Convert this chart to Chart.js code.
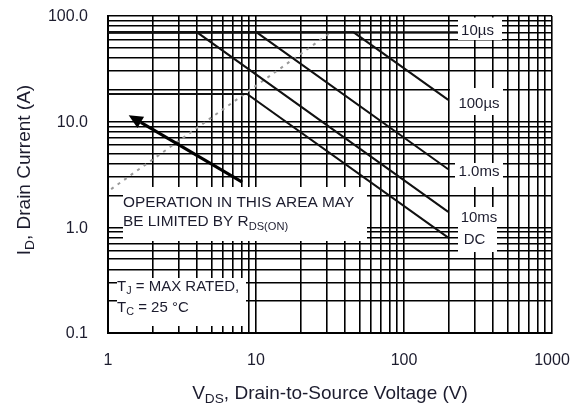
<!DOCTYPE html>
<html lang="en">
<head>
<meta charset="UTF-8">
<title>Safe Operating Area</title>
<script src="https://cdn.jsdelivr.net/npm/chart.js"></script>
<style>
  html, body { margin: 0; padding: 0; background: #fff; }
  #wrap { width: 574px; height: 412px; position: relative; }
</style>
</head>
<body>
<div id="wrap"><canvas id="soa"></canvas></div>
<script>
// grid / tick values
const xGridValues = [1, 2, 3, 4, 5, 6, 7, 8, 9, 10, 20, 30, 40, 50, 60, 70, 80, 90, 100, 200, 300, 400, 500, 600, 700, 800, 900, 1000];
const yGridValues = [0.1, 0.2, 0.3, 0.4, 0.5, 0.6, 0.7, 0.8, 0.9, 1, 2, 3, 4, 5, 6, 7, 8, 9, 10, 20, 30, 40, 50, 60, 70, 80, 90, 100];
const xTickValues = [1, 10, 100, 1000];
const xTickLabels = ['1', '10', '100', '1000'];
const yTickValues = [0.1, 1, 10, 100];
const yTickLabels = ['0.1', '1.0', '10.0', '100.0'];

// SOA curves (V, A)
const curveNames = ['10µs', '100µs', '1.0ms', '10ms', 'DC'];
const v10us = [1, 231];        const i10us = [70, 70];
const v100us = [1, 45.7, 199]; const i100us = [70, 70, 16.1];
const v1ms = [1, 10.1, 199];   const i1ms = [70, 70, 3.55];
const v10ms = [1, 4.0, 199];   const i10ms = [70, 70, 1.40];
const vDc = [1, 8.7, 199];     const iDc = [18.3, 18.3, 0.80];
// RDS(on) limit
const vRds = [1.05, 32.5];     const iRds = [2.3, 71];
// arrow: tail then tip
const arrowV = [8.07, 1.38];   const arrowI = [2.68, 11.5];

const FONT = '"Liberation Sans", Arial, sans-serif';
const TXT = '#1c1c2e';

const pts = (vs, is) => vs.map((v, k) => ({ x: v, y: is[k] }));
const curve = (vs, is) => ({ data: pts(vs, is), showLine: true, pointRadius: 0, borderColor: '#111', borderWidth: 2, tension: 0 });

// white backing boxes behind the notes [x0, y0, x1, y1]
const whiteBoxes = [
    [458, 17.5, 502, 40],
    [450, 88, 503, 115],
    [455, 163, 503, 187],
    [458, 207, 497, 252],
    [123, 187, 367, 241],
    [109.5, 198, 123, 225],
    [117, 278, 246, 326]
];
const curveLabelPos = [[477.5, 31], [479, 103.5], [479, 172], [479, 217.5], [474.5, 240]];

function richText(ctx, parts, x, y, size, align) {
    const sub = size * 0.72;
    let w = 0;
    parts.forEach(p => { ctx.font = (p[1] ? sub : size) + 'px ' + FONT; w += ctx.measureText(p[0]).width; });
    let cx = align === 'center' ? x - w / 2 : (align === 'right' ? x - w : x);
    ctx.textAlign = 'left';
    ctx.textBaseline = 'middle';
    parts.forEach(p => {
        ctx.font = (p[1] ? sub : size) + 'px ' + FONT;
        ctx.fillText(p[0], cx, p[1] ? y + size * 0.3 : y);
        cx += ctx.measureText(p[0]).width;
    });
}

const notes = {
    id: 'notes',
    beforeDatasetsDraw(chart) {
        const ctx = chart.ctx;
        ctx.save();
        ctx.fillStyle = '#fff';
        whiteBoxes.forEach(b => ctx.fillRect(b[0], b[1], b[2] - b[0], b[3] - b[1]));
        ctx.restore();
    },
    afterDatasetsDraw(chart) {
        const ctx = chart.ctx, xs = chart.scales.x, ys = chart.scales.y;
        ctx.save();
        // arrow
        const x0 = xs.getPixelForValue(arrowV[0]), y0 = ys.getPixelForValue(arrowI[0]);
        const x1 = xs.getPixelForValue(arrowV[1]), y1 = ys.getPixelForValue(arrowI[1]);
        const ang = Math.atan2(y1 - y0, x1 - x0), hl = 14, hw = 6.5;
        const bx = x1 - Math.cos(ang) * hl, by = y1 - Math.sin(ang) * hl;
        ctx.strokeStyle = '#000'; ctx.fillStyle = '#000'; ctx.lineWidth = 3;
        ctx.beginPath(); ctx.moveTo(x0, y0); ctx.lineTo(bx, by); ctx.stroke();
        ctx.beginPath();
        ctx.moveTo(x1, y1);
        ctx.lineTo(bx + Math.sin(ang) * hw, by - Math.cos(ang) * hw);
        ctx.lineTo(bx - Math.sin(ang) * hw, by + Math.cos(ang) * hw);
        ctx.closePath(); ctx.fill();

        ctx.fillStyle = TXT;
        curveNames.forEach((n, k) => richText(ctx, [[n]], curveLabelPos[k][0], curveLabelPos[k][1], 15, 'center'));
        richText(ctx, [['OPERATION IN THIS AREA MAY']], 123, 203, 15.4, 'left');
        richText(ctx, [['BE LIMITED BY R'], ['DS(ON)', true]], 123, 222, 15.4, 'left');
        richText(ctx, [['T'], ['J', true], [' = MAX RATED,']], 117, 287, 15, 'left');
        richText(ctx, [['T'], ['C', true], [' = 25 °C']], 117, 308, 15, 'left');
        ctx.restore();
    },
    afterDraw(chart) {
        const ctx = chart.ctx, xs = chart.scales.x, ys = chart.scales.y;
        ctx.save();
        ctx.fillStyle = TXT;
        // tick labels
        xTickValues.forEach((v, k) => richText(ctx, [[xTickLabels[k]]], xs.getPixelForValue(v), 361, 16, 'center'));
        yTickValues.forEach((v, k) => richText(ctx, [[yTickLabels[k]]], 88, ys.getPixelForValue(v) + 1, 16, 'right'));
        // axis titles
        richText(ctx, [['V'], ['DS', true], [', Drain-to-Source Voltage (V)']], 330, 394, 19, 'center');
        ctx.translate(25, 170);
        ctx.rotate(-Math.PI / 2);
        richText(ctx, [['I'], ['D', true], [', Drain Current (A)']], 0, 0, 19, 'center');
        ctx.restore();
    }
};

new Chart(document.getElementById('soa').getContext('2d'), {
    type: 'scatter',
    data: {
        datasets: [
            curve(v10us, i10us),
            curve(v100us, i100us),
            curve(v1ms, i1ms),
            curve(v10ms, i10ms),
            curve(vDc, iDc),
            { data: pts(vRds, iRds), showLine: true, pointRadius: 0, borderColor: '#999', borderWidth: 2, borderDash: [3, 5] }
        ]
    },
    options: {
        responsive: true,
        maintainAspectRatio: false,
        animation: false,
        layout: { padding: { left: 0, right: 22, top: 16, bottom: 0 } },
        plugins: { legend: { display: false }, tooltip: { enabled: false } },
        scales: {
            x: {
                type: 'logarithmic', min: 1, max: 1000,
                afterBuildTicks: s => { s.ticks = xGridValues.map(v => ({ value: v })); },
                afterFit: s => { s.height = 79; },
                grid: { color: '#000', lineWidth: 1.6, drawTicks: false },
                border: { display: true, color: '#000', width: 2 },
                ticks: { display: false, autoSkip: false }
            },
            y: {
                type: 'logarithmic', min: 0.1, max: 100,
                afterBuildTicks: s => { s.ticks = yGridValues.map(v => ({ value: v })); },
                afterFit: s => { s.width = 108; },
                grid: { color: '#000', lineWidth: 1.6, drawTicks: false },
                border: { display: true, color: '#000', width: 2 },
                ticks: { display: false, autoSkip: false }
            }
        }
    },
    plugins: [notes]
});
</script>
</body>
</html>
